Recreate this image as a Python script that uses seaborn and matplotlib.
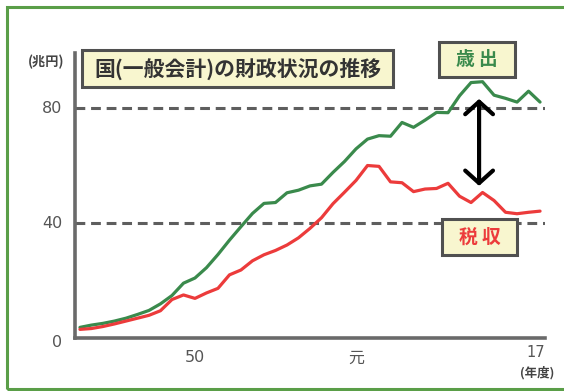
import matplotlib
matplotlib.use("Agg")
import matplotlib.pyplot as plt
from matplotlib.patches import Rectangle
import pandas as pd
import seaborn as sns

# 国の一般会計（兆円）昭和40年度〜平成17年度
years = list(range(1965, 2006))
expenditure = [3.7, 4.5, 5.1, 5.9, 6.9, 8.2, 9.6, 11.9, 14.8, 19.1,
               20.9, 24.5, 29.1, 34.1, 38.8, 43.4, 46.9, 47.2, 50.6, 51.5,
               53.0, 53.6, 57.7, 61.5, 65.9, 69.3, 70.5, 70.3, 75.1, 73.4,
               75.9, 78.6, 78.5, 84.4, 89.0, 89.3, 84.6, 83.5, 82.2, 86.0,
               82.2]
tax_revenue = [3.0, 3.3, 4.0, 4.9, 5.9, 6.9, 7.9, 9.5, 13.4, 15.0,
               13.8, 15.7, 17.3, 22.0, 23.7, 26.9, 29.0, 30.5, 32.4, 34.9,
               38.2, 41.9, 46.8, 50.8, 54.9, 60.1, 59.8, 54.4, 54.1, 51.0,
               51.9, 52.1, 53.9, 49.4, 47.2, 50.7, 47.9, 43.8, 43.3, 43.8,
               44.2]
series_names = ["歳 出", "税 収"]
series_colors = ["#3a8a4c", "#ec3b3b"]
guide_levels = [40, 80]
y_tick_values = [0, 40, 80]
y_tick_labels = ["0", "40", "80"]
x_tick_years = [1975, 1989, 2005]
x_tick_labels = ["50", "元", "17"]
title_text = "国(一般会計)の財政状況の推移"

sns.set_theme(style="white")
plt.rcParams["font.family"] = ["Noto Sans CJK JP", "DejaVu Sans"]

W, H = 564, 391
fig = plt.figure(figsize=(W / 100, H / 100), dpi=100)


def fx(x):
    return x / W


def fy(y):
    return 1 - y / H


ax = fig.add_axes([fx(75), fy(338), fx(545) - fx(75), fy(53) - fy(338)])

df = pd.DataFrame({
    "年度": years * 2,
    "兆円": expenditure + tax_revenue,
    "区分": [series_names[0]] * len(years) + [series_names[1]] * len(years),
})
sns.lineplot(data=df, x="年度", y="兆円", hue="区分", palette=series_colors,
             hue_order=series_names, linewidth=2.3, legend=False, ax=ax,
             zorder=3)

ax.set_xlim(1964.57, 2005.43)
ax.set_ylim(0, 99.3)
for lvl in guide_levels:
    ax.axhline(lvl, color="#5e5e5e", lw=2.2, ls=(0, (3.2, 1.9)), zorder=1)

for side in ["top", "right"]:
    ax.spines[side].set_visible(False)
for side in ["left", "bottom"]:
    ax.spines[side].set_color("#6a6a6a")
    ax.spines[side].set_linewidth(2.6)
ax.set_xlabel("")
ax.set_ylabel("")
ax.set_xticks([])
ax.set_yticks([])

# 目盛ラベル
for v, lab in zip(y_tick_values, y_tick_labels):
    ax.annotate(lab, xy=(0, v), xycoords=("axes fraction", "data"),
                xytext=(-9, -3 if v == 0 else 0), textcoords="offset points",
                ha="right", va="center", fontsize=11.5, color="#555555",
                family=["DejaVu Sans"])
for yr, lab in zip(x_tick_years, x_tick_labels):
    last = lab == "17"
    ax.annotate(lab, xy=(yr, 0), xycoords=("data", "axes fraction"),
                xytext=(-3 if last else 0, -5 if last else -9),
                textcoords="offset points", ha="center", va="top",
                fontsize=10.5 if last else 11.5, color="#555555",
                family=["DejaVu Sans", "Noto Sans CJK JP"])

fig.text(fx(46), fy(62), "(兆円)", ha="center", va="center", fontsize=9.5,
         color="#444444", weight="bold")
fig.text(fx(537), fy(373), "(年度)", ha="center", va="center", fontsize=9,
         color="#444444", weight="bold")

# 差を示す矢印
ax.annotate("", xy=(1999.7, 83.3), xytext=(1999.7, 53.0),
            arrowprops=dict(arrowstyle="<->,head_length=0.45,head_width=0.5",
                            mutation_scale=20, lw=3, color="black",
                            shrinkA=0, shrinkB=0), zorder=5)


def label_box(x0, y0, x1, y1, text, color, size, weight="bold"):
    fig.add_artist(Rectangle((fx(x0), fy(y1)), fx(x1) - fx(x0), fy(y0) - fy(y1),
                             transform=fig.transFigure, facecolor="#f8f6cf",
                             edgecolor="#505050", lw=2.2, zorder=6))
    fig.text(fx((x0 + x1) / 2), fy((y0 + y1) / 2), text, ha="center",
             va="center", fontsize=size, color=color, weight=weight, zorder=7)


label_box(82, 50, 393, 87, title_text, "#333333", 15)
label_box(439, 42, 515, 77, series_names[0], series_colors[0], 13.5)
label_box(442, 219, 517, 255, series_names[1], series_colors[1], 13.5)

# 外枠
fig.add_artist(Rectangle((fx(7), fy(389)), fx(600) - fx(7), fy(7) - fy(389),
                         transform=fig.transFigure, facecolor="none",
                         edgecolor="#5a9e48", lw=2.2, zorder=0))

fig.savefig("out.png", dpi=100, facecolor="white")
